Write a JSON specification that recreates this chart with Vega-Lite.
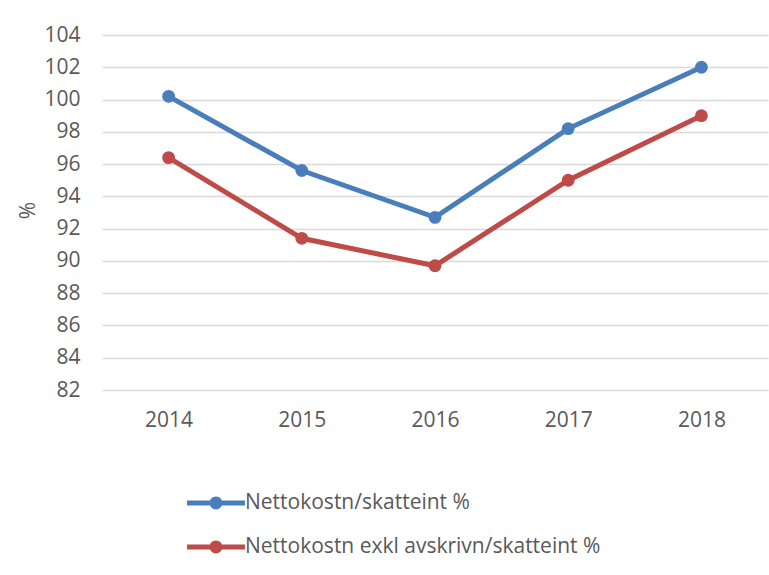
{
  "$schema": "https://vega.github.io/schema/vega-lite/v6.json",
  "autosize": "none",
  "width": 666,
  "height": 355,
  "padding": {"left": 102, "top": 35, "right": 1, "bottom": 185},
  "background": "white",
  "config": {
    "font": "Open Sans",
    "view": {"stroke": null}
  },
  "data": {
    "values": [
      {"year": "2014", "series": "Nettokostn/skatteint %", "value": 100.2},
      {"year": "2015", "series": "Nettokostn/skatteint %", "value": 95.6},
      {"year": "2016", "series": "Nettokostn/skatteint %", "value": 92.7},
      {"year": "2017", "series": "Nettokostn/skatteint %", "value": 98.2},
      {"year": "2018", "series": "Nettokostn/skatteint %", "value": 102.0},
      {"year": "2014", "series": "Nettokostn exkl avskrivn/skatteint %", "value": 96.4},
      {"year": "2015", "series": "Nettokostn exkl avskrivn/skatteint %", "value": 91.4},
      {"year": "2016", "series": "Nettokostn exkl avskrivn/skatteint %", "value": 89.7},
      {"year": "2017", "series": "Nettokostn exkl avskrivn/skatteint %", "value": 95.0},
      {"year": "2018", "series": "Nettokostn exkl avskrivn/skatteint %", "value": 99.0}
    ]
  },
  "mark": {"type": "line", "strokeWidth": 5, "point": {"filled": true, "size": 165, "opacity": 1}},
  "encoding": {
    "x": {
      "field": "year", "type": "ordinal",
      "scale": {"type": "point", "padding": 0.5},
      "axis": {"title": null, "labelAngle": 0, "domain": false, "ticks": false, "labelPadding": 19, "labelFontSize": 21, "labelColor": "#595959"}
    },
    "y": {
      "field": "value", "type": "quantitative",
      "scale": {"domain": [82, 104], "nice": false, "zero": false},
      "axis": {"title": "%", "titleFontWeight": "normal", "titleFontSize": 21, "titleColor": "#595959", "titleX": -64, "titleY": 175,
        "values": [82, 84, 86, 88, 90, 92, 94, 96, 98, 100, 102, 104],
        "domain": false, "ticks": false, "labelPadding": 22, "labelFontSize": 21, "labelColor": "#595959",
        "gridColor": "#d9d9d9", "gridWidth": 1.5}
    },
    "color": {
      "field": "series", "type": "nominal",
      "sort": ["Nettokostn/skatteint %", "Nettokostn exkl avskrivn/skatteint %"],
      "scale": {"range": ["#4a7ebb", "#be4b48"]},
      "legend": {
        "title": null, "orient": "none", "legendX": 99, "legendY": 453, "direction": "vertical",
        "symbolType": "M-1.93,-0.17H1.93V0.17H-1.93Z M-0.43,0 A0.43,0.43 0 1,1 0.43,0 A0.43,0.43 0 1,1 -0.43,0 Z",
        "symbolSize": 900, "symbolStrokeWidth": 0, "labelOffset": 14, "rowPadding": 19,
        "labelFontSize": 21, "labelColor": "#595959", "labelLimit": 600,
        "encode": {"symbols": {"update": {"fill": {"scale": "color", "field": "value"}, "opacity": {"value": 1}}}}
      }
    }
  }
}
